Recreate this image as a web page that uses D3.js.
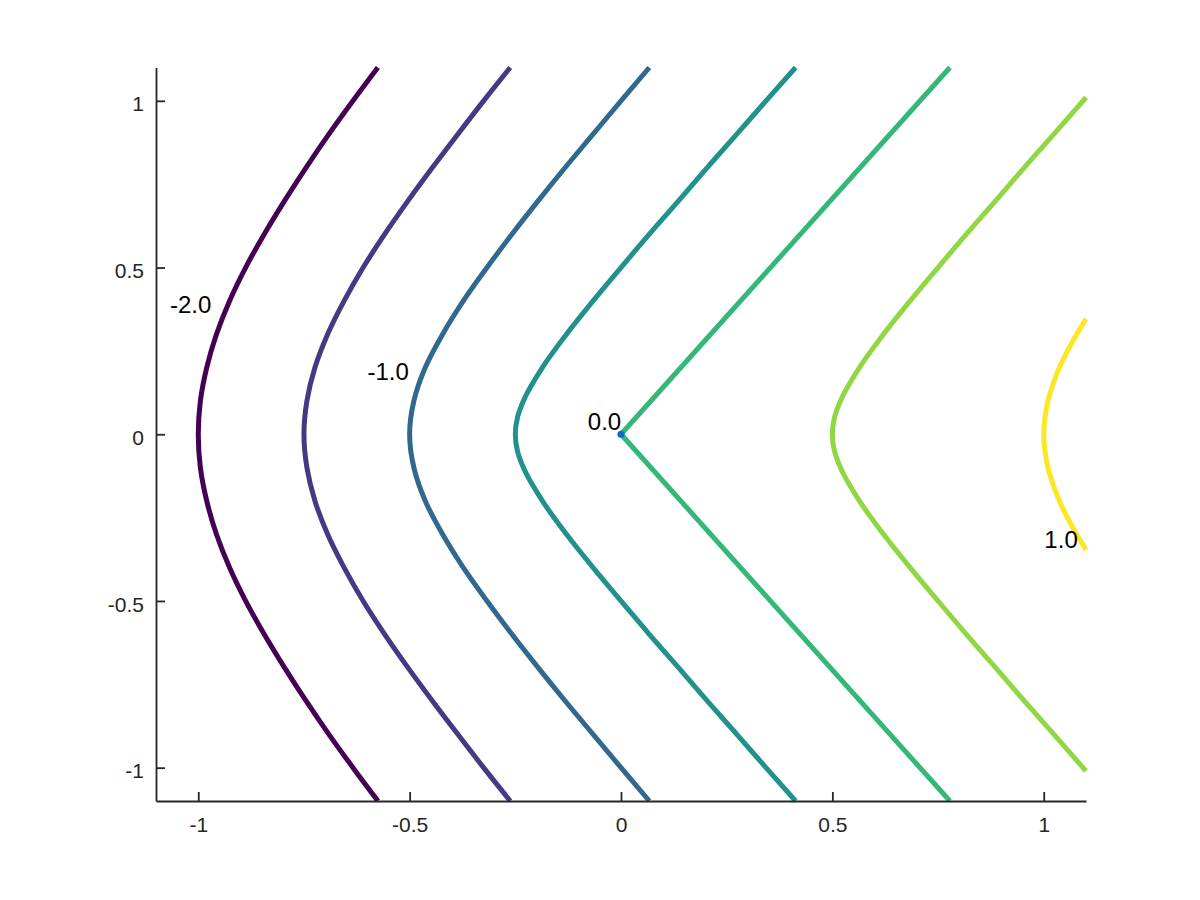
<!DOCTYPE html>
<html lang="en">

<head>
    <meta charset="UTF-8">
    <title>Contour lines</title>
    <style>
        body {
            margin: 0;
            padding: 0;
            background: #fff;
        }

        svg {
            display: block;
        }

        text {
            font-family: "Liberation Sans", Arial, sans-serif;
        }
    </style>
</head>

<body>

    <svg width="1200" height="900"></svg>

    <script src="https://d3js.org/d3.v7.min.js"></script>
    <script>
        // Contour levels, bottom to top of the colour map
        const levels = [-2, -1.5, -1, -0.5, 0, 0.5, 1];

        // Points, [x, y], from the top edge down
        const lineM20 = [[-0.575, 1.1], [-0.634, 1.0], [-0.691, 0.9], [-0.745, 0.8], [-0.796, 0.7], [-0.844, 0.6],
            [-0.888, 0.5], [-0.926, 0.4], [-0.957, 0.3], [-0.980, 0.2], [-0.995, 0.1], [-1.0, 0],
            [-0.995, -0.1], [-0.980, -0.2], [-0.957, -0.3], [-0.926, -0.4], [-0.888, -0.5], [-0.844, -0.6],
            [-0.796, -0.7], [-0.745, -0.8], [-0.691, -0.9], [-0.634, -1.0], [-0.575, -1.1]];
        const lineM15 = [[-0.262, 1.1], [-0.325, 1.0], [-0.386, 0.9], [-0.446, 0.8], [-0.504, 0.7], [-0.559, 0.6],
            [-0.610, 0.5], [-0.655, 0.4], [-0.694, 0.3], [-0.724, 0.2], [-0.743, 0.1], [-0.75, 0],
            [-0.743, -0.1], [-0.724, -0.2], [-0.694, -0.3], [-0.655, -0.4], [-0.610, -0.5], [-0.559, -0.6],
            [-0.504, -0.7], [-0.446, -0.8], [-0.386, -0.9], [-0.325, -1.0], [-0.262, -1.1]];
        const lineM10 = [[0.067, 1.1], [0.0, 1.0], [-0.066, 0.9], [-0.132, 0.8], [-0.196, 0.7], [-0.258, 0.6],
            [-0.317, 0.5], [-0.373, 0.4], [-0.422, 0.3], [-0.463, 0.2], [-0.490, 0.1], [-0.5, 0],
            [-0.490, -0.1], [-0.463, -0.2], [-0.422, -0.3], [-0.373, -0.4], [-0.317, -0.5], [-0.258, -0.6],
            [-0.196, -0.7], [-0.132, -0.8], [-0.066, -0.9], [0.0, -1.0], [0.067, -1.1]];
        const lineM05 = [[0.413, 1.1], [0.343, 1.0], [0.274, 0.9], [0.204, 0.8], [0.136, 0.7], [0.067, 0.6],
            [0.0, 0.5], [-0.066, 0.4], [-0.129, 0.3], [-0.186, 0.2], [-0.231, 0.1], [-0.245, 0.05], [-0.25, 0],
            [-0.245, -0.05], [-0.231, -0.1], [-0.186, -0.2], [-0.129, -0.3], [-0.066, -0.4], [0.0, -0.5],
            [0.067, -0.6], [0.136, -0.7], [0.204, -0.8], [0.274, -0.9], [0.343, -1.0], [0.413, -1.1]];
        const line00 = [[0.778, 1.1], [0, 0], [0.778, -1.1]];
        const line05 = [[1.1, 1.01], [1.024, 0.9], [0.954, 0.8], [0.886, 0.7], [0.817, 0.6], [0.75, 0.5],
            [0.684, 0.4], [0.621, 0.3], [0.564, 0.2], [0.519, 0.1], [0.505, 0.05], [0.5, 0],
            [0.505, -0.05], [0.519, -0.1], [0.564, -0.2], [0.621, -0.3], [0.684, -0.4], [0.75, -0.5],
            [0.817, -0.6], [0.886, -0.7], [0.954, -0.8], [1.024, -0.9], [1.1, -1.01]];
        const line10 = [[1.1, 0.346], [1.078, 0.3], [1.056, 0.25], [1.037, 0.2], [1.022, 0.15], [1.010, 0.1],
            [1.003, 0.05], [1.0, 0], [1.003, -0.05], [1.010, -0.1], [1.022, -0.15], [1.037, -0.2],
            [1.056, -0.25], [1.078, -0.3], [1.1, -0.346]];
        const contourLines = [lineM20, lineM15, lineM10, lineM05, line00, line05, line10];

        // Contour labels (text, and where its centre sits in data units)
        const labelText = ["-2.0", "-1.0", "0.0", "1.0"];
        const labelX = [-1.018, -0.551, -0.039, 1.041];
        const labelY = [0.39, 0.188, 0.0385, -0.315];

        // Axes
        const xTicks = [-1, -0.5, 0, 0.5, 1];
        const xTickLabels = ["-1", "-0.5", "0", "0.5", "1"];
        const yTicks = [-1, -0.5, 0, 0.5, 1];
        const yTickLabels = ["-1", "-0.5", "0", "0.5", "1"];
        const marker = [0, 0];

        const svg = d3.select("svg");
        const plotLeft = 156, plotRight = 1086, plotTop = 67.5, plotBottom = 801;

        const x = d3.scaleLinear().domain([-1.1, 1.1]).range([plotLeft, plotRight]);
        const y = d3.scaleLinear().domain([-1.1, 1.1]).range([plotBottom, plotTop]);
        const color = d3.scaleSequential(d3.interpolateViridis).domain([levels[0], levels[levels.length - 1]]);

        const smooth = d3.line().x(d => x(d[0])).y(d => y(d[1])).curve(d3.curveMonotoneY);
        const straight = d3.line().x(d => x(d[0])).y(d => y(d[1]));

        svg.append("g")
            .selectAll("path")
            .data(contourLines)
            .join("path")
            .attr("d", (d, i) => levels[i] === 0 ? straight(d) : smooth(d))
            .attr("fill", "none")
            .attr("stroke", (d, i) => color(levels[i]))
            .attr("stroke-width", 5)
            .attr("stroke-linejoin", "round");

        svg.append("circle")
            .attr("cx", x(marker[0]))
            .attr("cy", y(marker[1]))
            .attr("r", 3.6)
            .attr("fill", "#0072bd");

        svg.append("g")
            .selectAll("text")
            .data(labelText)
            .join("text")
            .attr("x", (d, i) => x(labelX[i]))
            .attr("y", (d, i) => y(labelY[i]))
            .attr("dy", "0.36em")
            .attr("text-anchor", "middle")
            .attr("font-size", 24)
            .attr("fill", "#000")
            .text(d => d);

        // axes, ticks pointing inward
        const xAxis = d3.axisBottom(x)
            .tickValues(xTicks)
            .tickFormat((d, i) => xTickLabels[i])
            .tickSizeInner(-9)
            .tickSizeOuter(0)
            .tickPadding(16);
        const yAxis = d3.axisLeft(y)
            .tickValues(yTicks)
            .tickFormat((d, i) => yTickLabels[i])
            .tickSizeInner(-9)
            .tickSizeOuter(0)
            .tickPadding(12);

        const gx = svg.append("g").attr("transform", `translate(0,${plotBottom})`).call(xAxis);
        const gy = svg.append("g").attr("transform", `translate(${plotLeft},0)`).call(yAxis);

        [gx, gy].forEach(g => {
            g.select(".domain").attr("stroke", "#262626").attr("stroke-width", 1.8);
            g.selectAll(".tick line").attr("stroke", "#262626").attr("stroke-width", 1.8);
            g.selectAll(".tick text")
                .attr("fill", "#262626")
                .attr("font-size", 21)
                .attr("font-family", "'Liberation Sans', Arial, sans-serif");
        });
        gy.selectAll(".tick text").attr("dy", "0.48em");
        gx.selectAll(".tick text").attr("dy", "0.71em");
    </script>

</body>

</html>
